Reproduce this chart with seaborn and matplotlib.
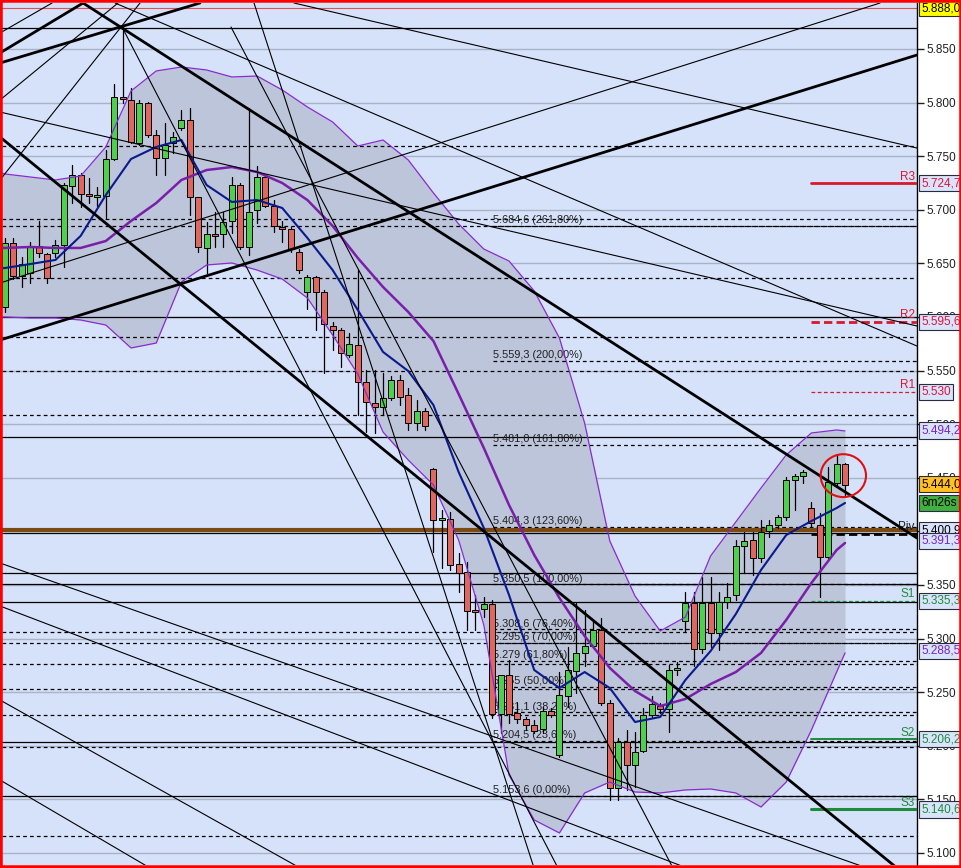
import matplotlib
matplotlib.use("Agg")
import matplotlib.pyplot as plt
from matplotlib.patches import Rectangle, Ellipse
import pandas as pd
import seaborn as sns

# -----------------------------
# Candles (one per bar, oldest first)
# -----------------------------
opens = [5.609, 5.669, 5.638, 5.641, 5.666, 5.659, 5.660, 5.667, 5.722, 5.732,
         5.714, 5.712, 5.713, 5.747, 5.805, 5.802, 5.762, 5.800, 5.770, 5.748,
         5.762, 5.776, 5.784, 5.712, 5.664, 5.677, 5.677, 5.690, 5.723, 5.665,
         5.700, 5.731, 5.704, 5.684, 5.682, 5.661, 5.623, 5.637, 5.623, 5.592,
         5.588, 5.565, 5.574, 5.539, 5.520, 5.516, 5.524, 5.541, 5.527, 5.501,
         5.512, 5.458, 5.411, 5.412, 5.370, 5.362, 5.326, 5.328, 5.332, 5.230,
         5.266, 5.231, 5.225, 5.219, 5.216, 5.232, 5.191, 5.246, 5.270, 5.287,
         5.293, 5.308, 5.240, 5.161, 5.204, 5.182, 5.195, 5.229, 5.237, 5.234,
         5.271, 5.316, 5.333, 5.290, 5.333, 5.305, 5.334, 5.341, 5.386, 5.392,
         5.375, 5.400, 5.406, 5.413, 5.448, 5.452, 5.422, 5.406, 5.376, 5.445,
         5.463]
highs = [5.674, 5.674, 5.656, 5.670, 5.690, 5.660, 5.672, 5.725, 5.742, 5.734,
         5.730, 5.721, 5.756, 5.817, 5.871, 5.814, 5.802, 5.801, 5.774, 5.781,
         5.773, 5.793, 5.795, 5.712, 5.689, 5.698, 5.698, 5.731, 5.725, 5.795,
         5.741, 5.732, 5.709, 5.690, 5.684, 5.663, 5.639, 5.638, 5.625, 5.595,
         5.590, 5.585, 5.644, 5.551, 5.551, 5.548, 5.545, 5.546, 5.534, 5.523,
         5.515, 5.459, 5.420, 5.418, 5.380, 5.371, 5.341, 5.339, 5.336, 5.266,
         5.280, 5.240, 5.227, 5.224, 5.236, 5.235, 5.269, 5.292, 5.333, 5.327,
         5.317, 5.319, 5.243, 5.207, 5.215, 5.213, 5.235, 5.246, 5.240, 5.275,
         5.278, 5.343, 5.343, 5.357, 5.357, 5.343, 5.352, 5.392, 5.399, 5.399,
         5.411, 5.411, 5.415, 5.451, 5.454, 5.457, 5.427, 5.417, 5.460, 5.471,
         5.464]
lows = [5.605, 5.635, 5.628, 5.632, 5.656, 5.632, 5.656, 5.647, 5.706, 5.703,
        5.706, 5.704, 5.692, 5.746, 5.800, 5.762, 5.760, 5.768, 5.732, 5.732,
        5.753, 5.774, 5.695, 5.661, 5.641, 5.665, 5.665, 5.678, 5.663, 5.658,
        5.688, 5.703, 5.679, 5.670, 5.661, 5.641, 5.607, 5.588, 5.548, 5.569,
        5.553, 5.563, 5.509, 5.493, 5.492, 5.509, 5.523, 5.518, 5.495, 5.495,
        5.495, 5.381, 5.366, 5.364, 5.343, 5.308, 5.308, 5.320, 5.226, 5.212,
        5.221, 5.221, 5.215, 5.212, 5.212, 5.227, 5.190, 5.236, 5.249, 5.274,
        5.292, 5.238, 5.149, 5.149, 5.159, 5.162, 5.194, 5.227, 5.231, 5.213,
        5.266, 5.306, 5.274, 5.287, 5.292, 5.289, 5.329, 5.336, 5.361, 5.359,
        5.371, 5.395, 5.403, 5.411, 5.420, 5.445, 5.404, 5.339, 5.375, 5.443,
        5.434]
closes = [5.669, 5.638, 5.649, 5.665, 5.660, 5.636, 5.667, 5.723, 5.732, 5.715,
          5.713, 5.713, 5.747, 5.805, 5.803, 5.763, 5.800, 5.770, 5.748, 5.760,
          5.768, 5.784, 5.712, 5.665, 5.677, 5.676, 5.689, 5.723, 5.665, 5.698,
          5.731, 5.704, 5.685, 5.682, 5.663, 5.644, 5.637, 5.623, 5.593, 5.588,
          5.566, 5.575, 5.539, 5.521, 5.516, 5.524, 5.541, 5.525, 5.501, 5.512,
          5.498, 5.411, 5.412, 5.369, 5.361, 5.326, 5.325, 5.332, 5.230, 5.266,
          5.230, 5.225, 5.219, 5.214, 5.232, 5.229, 5.247, 5.271, 5.287, 5.293,
          5.308, 5.240, 5.161, 5.204, 5.182, 5.194, 5.229, 5.239, 5.234, 5.271,
          5.272, 5.333, 5.290, 5.333, 5.305, 5.334, 5.339, 5.386, 5.391, 5.375,
          5.399, 5.406, 5.413, 5.448, 5.452, 5.455, 5.408, 5.376, 5.446, 5.463,
          5.443]

# -----------------------------
# Indicators (left edge, then every 3rd bar)
# -----------------------------
ind_bar = [-0.36, 0, 3, 6, 9, 12, 15, 18, 21, 24, 27, 30, 33, 36, 39, 42, 45, 48, 51,
           54, 57, 60, 63, 66, 69, 72, 75, 78, 81, 84, 87, 90, 93, 96, 99, 100]
ma_fast = [5.6455, 5.6457, 5.6494, 5.6532, 5.6756, 5.7138, 5.7474, 5.7586, 5.7651, 5.7231,
           5.7073, 5.7091, 5.7017, 5.6737, 5.6438, 5.6065, 5.5674, 5.5496, 5.5179,
           5.4554, 5.4032, 5.3407, 5.2707, 5.2539, 5.2688, 5.2539, 5.2222, 5.2269,
           5.2614, 5.2884, 5.3229, 5.3640, 5.3966, 5.4097, 5.4218, 5.4265]
ma_mid = [5.6644, 5.6644, 5.6653, 5.6644, 5.6644, 5.6709, 5.6896, 5.7063, 5.7278, 5.7371,
          5.7399, 5.7353, 5.7250, 5.7091, 5.6849, 5.6550, 5.6280, 5.6047, 5.5776,
          5.5282, 5.4778, 5.4246, 5.3780, 5.3379, 5.3024, 5.2726, 5.2511, 5.2371,
          5.2437, 5.2576, 5.2688, 5.2866, 5.3174, 5.3519, 5.3826, 5.3892]
band_up = [5.7343, 5.7334, 5.7306, 5.7278, 5.7315, 5.7586, 5.8108, 5.8295, 5.8332, 5.8304,
           5.8239, 5.8248, 5.8118, 5.7959, 5.7819, 5.7595, 5.7651, 5.7465, 5.7157,
           5.6868, 5.6634, 5.6522, 5.6243, 5.5804, 5.5011, 5.3910, 5.3397, 5.3071,
           5.3201, 5.3771, 5.4088, 5.4405, 5.4713, 5.4918, 5.4946, 5.4937]
band_low = [5.6000, 5.6000, 5.5991, 5.5991, 5.5972, 5.5925, 5.5711, 5.5757, 5.6327, 5.6485,
            5.6504, 5.6438, 5.6354, 5.6177, 5.5832, 5.5468, 5.4927, 5.4666, 5.4433,
            5.3920, 5.3127, 5.1728, 5.1308, 5.1187, 5.1560, 5.1662, 5.1569, 5.1560,
            5.1588, 5.1597, 5.1560, 5.1429, 5.1662, 5.2147, 5.2688, 5.2866]

# -----------------------------
# Levels
# -----------------------------
tick_levels = [5.10, 5.15, 5.20, 5.25, 5.30, 5.35, 5.40, 5.45, 5.50, 5.55,
               5.60, 5.65, 5.70, 5.75, 5.80, 5.85]
hidden_ticks = [5.40]
solid_levels = [5.8696, 5.6000, 5.4881, 5.3985, 5.3612, 5.3505, 5.3341, 5.2035, 5.1536]
dashed_levels = [5.7595, 5.6914, 5.6846, 5.6364, 5.5813, 5.5496, 5.5086, 5.3061,
                 5.2959, 5.2763, 5.2530, 5.2287, 5.1989, 5.1159]
fib_prices = [5.6846, 5.5593, 5.4810, 5.4043, 5.3505, 5.3086, 5.2956, 5.2790,
              5.2550, 5.2311, 5.2045, 5.1536]
fib_texts = ["5.684,6 (261,80%)", "5.559,3 (200,00%)", "5.481,0 (161,80%)",
             "5.404,3 (123,60%)", "5.350,5 (100,00%)", "5.308,6 (76,40%)",
             "5.295,6 (70,00%)", "5.279 (61,80%)", "5.255 (50,00%)",
             "5.231,1 (38,20%)", "5.204,5 (23,60%)", "5.153,6 (0,00%)"]
pivot_names = ["R3", "R2", "R1", "Piv", "S1", "S2", "S3"]
pivot_prices = [5.7247, 5.5956, 5.5300, 5.3980, 5.3353, 5.2062, 5.1406]
close_line = 5.4009
high_line = 5.8880

# trend lines: (bar0, price0, bar1, price1)
thick_lines = [(9.29, 5.8929, 108.57, 5.3938),
               (-0.60, 5.7679, 106.19, 5.0860),
               (-0.60, 5.5785, 108.57, 5.8444),
               (-0.60, 5.8369, 23.21, 5.8929),
               (-0.60, 5.8463, 9.29, 5.8929)]
thin_lines = [(-0.60, 5.7912, 108.57, 5.5916),
              (34.40, 5.8929, 108.57, 5.7576),
              (13.10, 5.8929, 108.57, 5.5729),
              (-0.60, 5.6317, 104.17, 5.8929),
              (13.93, 5.8705, 65.83, 5.0860),
              (29.64, 5.8929, 62.98, 5.0860),
              (26.90, 5.8705, 79.52, 5.0860),
              (-0.60, 5.3705, 102.62, 5.0860),
              (-0.60, 5.3304, 81.19, 5.0860),
              (-0.60, 5.2427, 35.12, 5.0860),
              (-0.60, 5.1681, 17.26, 5.0860),
              (-0.60, 5.8649, 5.60, 5.8929),
              (-0.60, 5.8024, 13.45, 5.8929),
              (-0.60, 5.7278, 16.07, 5.8929)]

# right-hand price boxes: text, price, face, text colour
box_texts = ["5.888,0", "5.724,7", "5.595,6", "5.530", "5.494,2", "5.444,0", "6m26s",
             "5.400,9", "5.391,3", "5.335,3", "5.288,5", "5.206,2", "5.140,6"]
box_prices = [5.8880, 5.7247, 5.5956, 5.5300, 5.4942, 5.4440, 5.4265,
              5.4009, 5.3913, 5.3353, 5.2885, 5.2062, 5.1406]
box_faces = ["#ffff00", "#d8e4fa", "#d8e4fa", "#d8e4fa", "#d8e4fa", "#ffc020", "#40b040",
             "#d8e4fa", "#d8e4fa", "#d8e4fa", "#d8e4fa", "#d8e4fa", "#d8e4fa"]
box_colors = ["black", "#e0103c", "#e0103c", "#e0103c", "#7a22c8", "black", "black",
              "black", "#7a22c8", "#1f8a3a", "#7a22c8", "#1f8a3a", "#1f8a3a"]

# -----------------------------
# Style
# -----------------------------
sns.set_style("white")
plt.rcParams["font.family"] = ["Liberation Sans", "DejaVu Sans"]

BG = "#d5e2fa"
BAND = "#bcc5da"
UP = "#4fcf4f"
DOWN = "#e0675f"

fig = plt.figure(figsize=(9.62, 8.68), dpi=100)
fig.patch.set_facecolor("white")
ax = fig.add_axes([2 / 962, 3 / 868, 915 / 962, 862 / 868])
ax.set_facecolor(BG)
ax.set_xlim(-0.36, 108.57)
ax.set_ylim(5.0888, 5.8929)

bars = list(range(len(closes)))

# grid
for lv in tick_levels:
    ax.axhline(lv, color="#a9b3c6", lw=1.0, zorder=1)

# bollinger band area
ind = pd.DataFrame({"bar": ind_bar, "fast": ma_fast, "mid": ma_mid,
                    "up": band_up, "low": band_low})
ax.fill_between(ind["bar"], ind["low"], ind["up"], color=BAND, lw=0, zorder=1.2)

# horizontal levels
for lv in solid_levels:
    ax.axhline(lv, color="black", lw=0.9, zorder=2)
for lv in dashed_levels:
    ax.axhline(lv, color="black", lw=0.9, ls=(0, (3, 2.5)), zorder=2)
ax.axhline(high_line, color="#e05050", lw=0.8, zorder=2)
for lv, txt in zip(fib_prices, fib_texts):
    ax.plot([58.1, 108.57], [lv, lv], color="black", lw=0.9, ls=(0, (3, 2.5)), zorder=2)
    ax.text(58.1, lv + 0.0008, txt, fontsize=7.8, color="#202020", ha="left",
            va="bottom", zorder=3)
ax.axhline(close_line, color="#7b4a12", lw=3, zorder=2.5)

# pivot lines
piv_styles = [("#d9182e", "-", 2.0), ("#d9182e", (0, (3, 1.5)), 2.0),
              ("#d9182e", (0, (3, 2)), 0.9), ("black", (0, (3, 1.5)), 2.0),
              ("#1f8a3a", (0, (3, 2)), 0.9), ("#1f8a3a", "-", 1.4),
              ("#1f8a3a", "-", 2.2)]
for name, lv, (col, ls, lw) in zip(pivot_names, pivot_prices, piv_styles):
    ax.plot([95.95, 108.57], [lv, lv], color=col, ls=ls, lw=lw, zorder=3)
    ax.text(108.3, lv + 0.0006, name, color=col if col != "black" else "#202020",
            fontsize=8.5, ha="right", va="bottom", zorder=3)

# candles
for b, o, h, l, c in zip(bars, opens, highs, lows, closes):
    ax.plot([b, b], [l, h], color="black", lw=0.9, zorder=5)
    body = max(abs(c - o), 0.0016)
    ax.add_patch(Rectangle((b - 0.36, min(o, c)), 0.72, body,
                           facecolor=UP if c >= o else DOWN,
                           edgecolor="black", lw=0.7, zorder=5.5))

# moving averages
sns.lineplot(data=ind, x="bar", y="up", ax=ax, color="#8a2bd0", lw=0.9, zorder=6)
sns.lineplot(data=ind, x="bar", y="low", ax=ax, color="#8a2bd0", lw=0.9, zorder=6)
sns.lineplot(data=ind, x="bar", y="mid", ax=ax, color="#7a1fa8", lw=1.8, zorder=6)
sns.lineplot(data=ind, x="bar", y="fast", ax=ax, color="#0b1a8c", lw=1.5, zorder=6)

# trend lines
for x0, y0, x1, y1 in thick_lines:
    ax.plot([x0, x1], [y0, y1], color="black", lw=2.0, zorder=7)
for x0, y0, x1, y1 in thin_lines:
    ax.plot([x0, x1], [y0, y1], color="black", lw=0.8, zorder=7)

# hand drawn loop around the last bars
ax.add_patch(Ellipse((99.8, 5.4520), 5.4, 0.040, fill=False, ec="#e01010", lw=1.5, zorder=8))

# axes
ax.set_xlabel("")
ax.set_ylabel("")
ax.set_xticks([])
ax.yaxis.tick_right()
ax.set_yticks(tick_levels)
ax.set_yticklabels(["" if v in hidden_ticks else f"{v:.3f}" for v in tick_levels])
ax.tick_params(axis="y", length=5, width=1, pad=2, labelsize=8.5, colors="#202020")
for side in ["left", "top", "bottom"]:
    ax.spines[side].set_visible(False)
ax.spines["right"].set_color("black")
ax.spines["right"].set_linewidth(1)

# price boxes on the axis
for txt, lv, fc, tc in zip(box_texts, box_prices, box_faces, box_colors):
    ax.annotate(txt, xy=(1.0, lv), xycoords=ax.get_yaxis_transform(),
                xytext=(3, 0), textcoords="offset points", ha="left", va="center",
                fontsize=8.5, color=tc, annotation_clip=False, zorder=10,
                bbox=dict(boxstyle="square,pad=0.18", fc=fc, ec="#2a2a40", lw=0.8))

# red frame
fig.patches.append(Rectangle((0, 0), 1, 1, transform=fig.transFigure, fill=False,
                             ec="#ff0000", lw=4, zorder=20))

fig.savefig("out.png", dpi=100)
